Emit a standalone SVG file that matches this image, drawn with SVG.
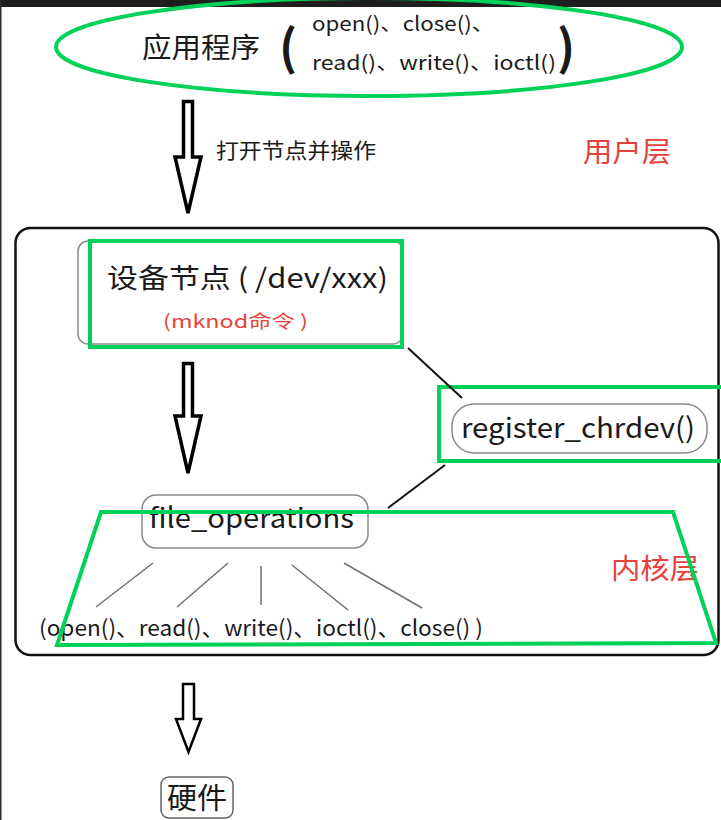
<svg xmlns="http://www.w3.org/2000/svg" width="721" height="820" viewBox="0 0 721 820">
<style>
text{font-family:"Noto Sans CJK SC","Noto Sans",sans-serif;fill:#1a1a1a}
.red{fill:#e5433c}
.green{fill:none;stroke:#00d158;stroke-width:4}
.gbox{fill:none;stroke:#8a8a8a;stroke-width:1.5}
.arrow{fill:#fff;stroke:#000;stroke-width:3.5;stroke-linejoin:miter}
.link{stroke:#111;stroke-width:2;fill:none}
.fan{stroke:#707070;stroke-width:1.5;fill:none}
</style>
<rect x="0" y="0" width="721" height="820" fill="#fff"/>
<rect x="0" y="0" width="721" height="7" fill="#1e1e1e"/>
<rect x="0" y="0" width="1.5" height="820" fill="#2a2a2a"/>

<g id="app">
<text x="142" y="58" font-size="28" textLength="118" lengthAdjust="spacingAndGlyphs">应用程序</text>
<text x="279" y="65" font-size="48" font-weight="700" fill="#000">(</text>
<text x="312" y="31" font-size="20" textLength="182" lengthAdjust="spacingAndGlyphs">open()、close()、</text>
<text x="312" y="70" font-size="20" textLength="244" lengthAdjust="spacingAndGlyphs">read()、write()、ioctl()</text>
<text x="557" y="65" font-size="48" font-weight="700" fill="#000">)</text>
<ellipse cx="369" cy="47" rx="313" ry="49" class="green"/>
</g>

<g id="user-layer">
<text x="583" y="162" font-size="28" class="red" textLength="88" lengthAdjust="spacingAndGlyphs">用户层</text>
</g>

<g id="kernel-frame">
<rect x="15.5" y="228" width="703" height="427" rx="15" fill="none" stroke="#111" stroke-width="2.5"/>
<text x="611" y="579" font-size="28" class="red" textLength="88" lengthAdjust="spacingAndGlyphs">内核层</text>
</g>

<g id="device-node">
<rect x="78" y="241" width="325" height="103" rx="10" class="gbox"/>
<text x="107" y="288" font-size="27" textLength="281" lengthAdjust="spacingAndGlyphs">设备节点 ( /dev/xxx)</text>
<text x="163" y="328" font-size="18" class="red" textLength="145" lengthAdjust="spacingAndGlyphs">(mknod命令 )</text>
<rect x="90" y="241" width="312" height="106" class="green"/>
</g>

<g id="register">
<rect x="452" y="404" width="255" height="49" rx="22" class="gbox"/>
<text x="461" y="438" font-size="28" textLength="234" lengthAdjust="spacingAndGlyphs">register_chrdev()</text>
<rect x="439" y="387" width="284" height="74" class="green"/>
</g>

<g id="file-operations">
<rect x="142" y="495" width="226" height="53" rx="14" class="gbox"/>
<text x="149" y="528" font-size="28" textLength="205" lengthAdjust="spacingAndGlyphs">file_operations</text>
<text x="39" y="636" font-size="22" textLength="444" lengthAdjust="spacingAndGlyphs">(open()、read()、write()、ioctl()、close() )</text>
<polygon points="101,512 673,512 716,643 57,645" class="green"/>
</g>

<g id="hardware">
<rect x="161" y="777" width="72" height="41" rx="8" fill="none" stroke="#666" stroke-width="1.5"/>
<text x="167" y="809" font-size="29" textLength="60" lengthAdjust="spacingAndGlyphs">硬件</text>
</g>

<g id="connectors">
<path class="arrow" d="M183.5,101.5 H192.5 V157 H201 L188,213 L175,157 H183.5 Z"/>
<text x="216" y="158" font-size="21" textLength="160" lengthAdjust="spacingAndGlyphs">打开节点并操作</text>
<path class="arrow" d="M183.5,363.5 H192.5 V416 H201 L188,473 L175,416 H183.5 Z"/>
<path class="arrow" style="stroke-width:2.5" d="M183,684 H194 V719 H201 L188.5,752 L176,719 H183 Z"/>
<line class="link" x1="408" y1="348" x2="462" y2="398"/>
<line class="link" x1="445" y1="465" x2="388" y2="508"/>
<line class="fan" x1="153" y1="563" x2="96" y2="607"/>
<line class="fan" x1="228" y1="563" x2="177" y2="607"/>
<line class="fan" x1="261" y1="566" x2="261" y2="605"/>
<line class="fan" x1="292" y1="565" x2="348" y2="610"/>
<line class="fan" x1="344" y1="563" x2="422" y2="608"/>
</g>
</svg>
